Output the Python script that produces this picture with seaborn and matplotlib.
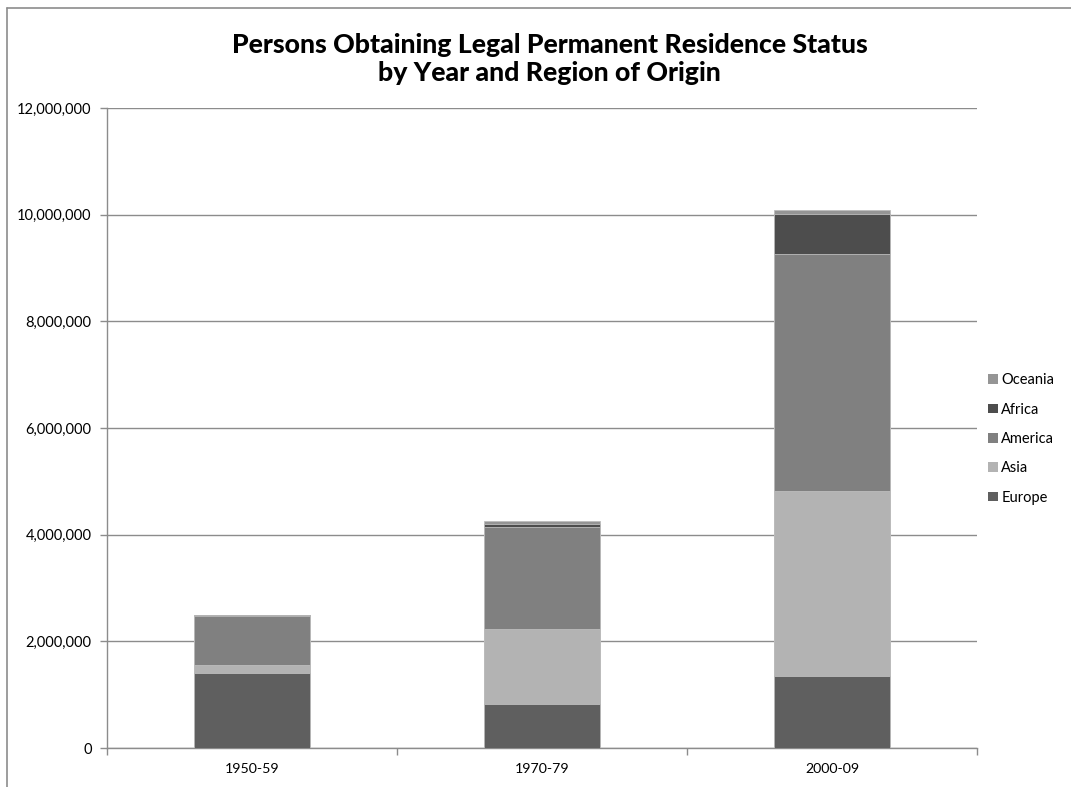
import numpy as np
import pandas as pd
import matplotlib
matplotlib.use("Agg")
import matplotlib.pyplot as plt
from matplotlib.lines import Line2D
from matplotlib.patches import Patch
from matplotlib.ticker import FuncFormatter, MultipleLocator
import seaborn as sns

# Persons obtaining legal permanent residence, by decade and region of origin
decades = ["1950-59", "1970-79", "2000-09"]
europe = [1404973, 825590, 1349609]
asia = [147453, 1406526, 3470835]
america = [921610, 1904355, 4441529]
africa = [13016, 71408, 759734]
oceania = [11353, 41242, 65793]

regions = ["Europe", "Asia", "America", "Africa", "Oceania"]
colors = {
    "Europe": "#5f5f5f",
    "Asia": "#b3b3b3",
    "America": "#808080",
    "Africa": "#4d4d4d",
    "Oceania": "#959595",
}

df = pd.DataFrame({"Decade": decades, "Europe": europe, "Asia": asia,
                   "America": america, "Africa": africa, "Oceania": oceania})
cum = df[regions].cumsum(axis=1)
cum["Decade"] = df["Decade"]

sns.set_theme(style="white")
plt.rcParams["font.family"] = ["Lato", "DejaVu Sans"]
plt.rcParams["text.color"] = "black"

fig = plt.figure(figsize=(10.71, 7.87), dpi=100)
ax = fig.add_axes([107 / 1071, 1 - 748 / 787, 870 / 1071, 640 / 787])

# Stack by overdrawing cumulative totals, tallest first
for reg in reversed(regions):
    sns.barplot(data=cum, x="Decade", y=reg, color=colors[reg], width=0.4,
                edgecolor="#bdbdbd", linewidth=0.6, saturation=1, ax=ax, zorder=3)

ax.set_ylim(0, 12_000_000)
ax.set_xlim(-0.5, 2.5)
ax.yaxis.set_major_locator(MultipleLocator(2_000_000))
ax.yaxis.set_major_formatter(FuncFormatter(lambda v, p: f"{int(v):,}"))
ax.grid(axis="y", color="#8c8c8c", linewidth=1.0, zorder=0)
ax.set_axisbelow(True)
ax.set_xlabel("")
ax.set_ylabel("")

for side in ["top", "right"]:
    ax.spines[side].set_visible(False)
for side in ["left", "bottom"]:
    ax.spines[side].set_color("#8c8c8c")
    ax.spines[side].set_linewidth(1.0)

ax.tick_params(axis="y", which="major", direction="out", length=5, width=1,
               color="#8c8c8c", labelsize=10.5, labelcolor="#000000", pad=6, left=True)
ax.tick_params(axis="x", which="major", length=0, labelsize=10.2,
               labelcolor="#000000", pad=11)
# category-boundary ticks on the x axis
ax.set_xticks([-0.5, 0.5, 1.5, 2.5], minor=True)
ax.tick_params(axis="x", which="minor", direction="out", length=5, width=1,
               color="#8c8c8c", bottom=True)

fig.suptitle("Persons Obtaining Legal Permanent Residence Status\nby Year and Region of Origin",
             x=0.513, y=0.958, fontsize=19.2, fontweight="black", color="black",
             linespacing=1.2)

handles = [Patch(facecolor=colors[r], edgecolor="none", label=r) for r in reversed(regions)]
fig.legend(handles=handles, loc="center left", bbox_to_anchor=(975 / 1071, 1 - 439 / 787),
           frameon=False, fontsize=10.5, handlelength=0.65, handleheight=0.65,
           handletextpad=0.25, labelspacing=1.05, labelcolor="black")

# chart-area border (top and left edges)
fig.add_artist(Line2D([7 / 1071, 1.0], [1 - 8 / 787, 1 - 8 / 787],
                      transform=fig.transFigure, color="#8c8c8c", linewidth=1.2))
fig.add_artist(Line2D([7 / 1071, 7 / 1071], [0.0, 1 - 8 / 787],
                      transform=fig.transFigure, color="#8c8c8c", linewidth=1.2))

fig.savefig("out.png", dpi=100, facecolor="white")
